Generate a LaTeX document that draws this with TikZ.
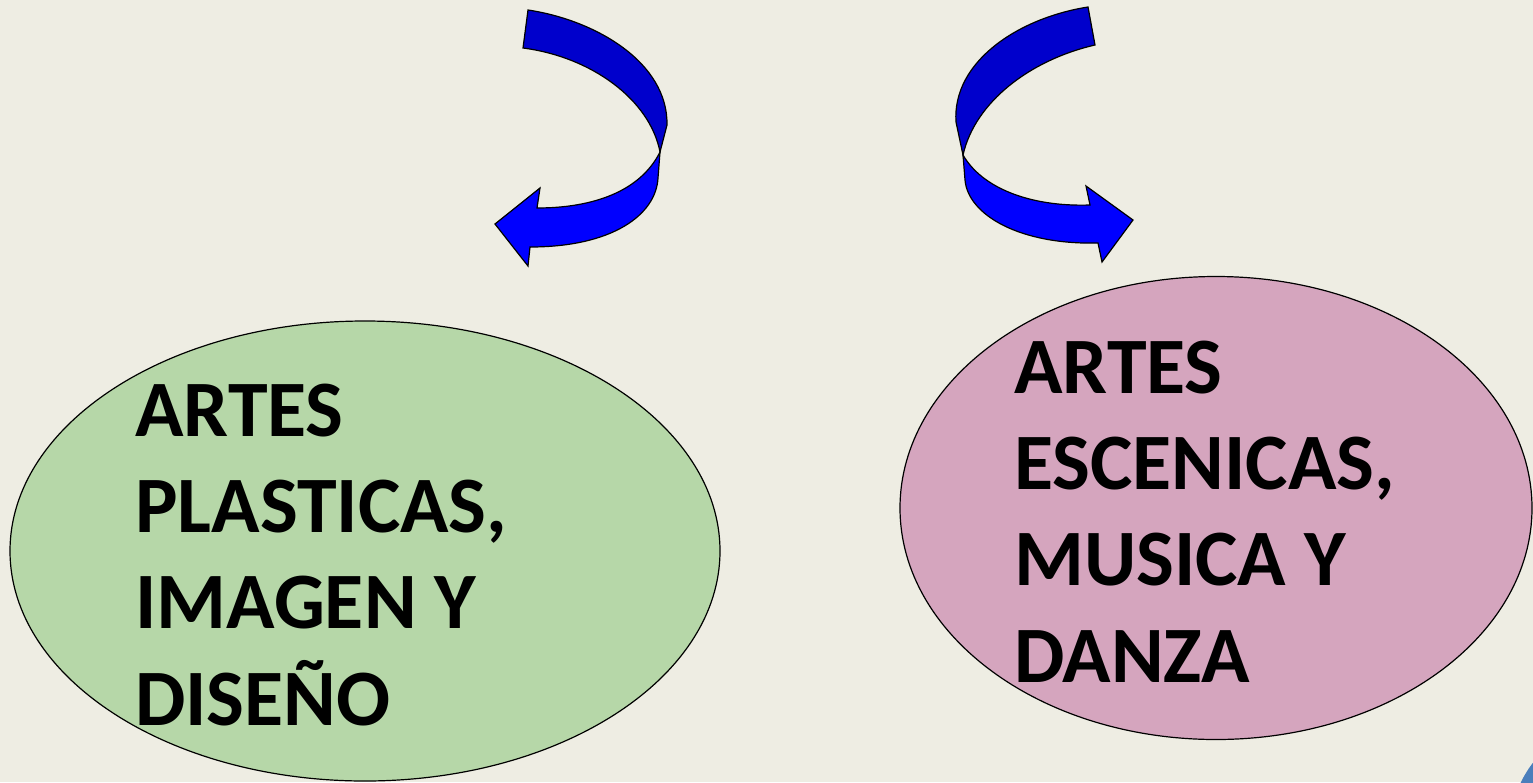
\documentclass[tikz,border=0pt]{standalone}
\usepackage{fontspec}
\setmainfont{Carlito}
\usetikzlibrary{shapes.geometric}
\definecolor{bg}{HTML}{EEEDE3}
\definecolor{greenfill}{HTML}{B6D7A8}
\definecolor{pinkfill}{HTML}{D5A5BE}
\definecolor{darkband}{RGB}{0,0,204}
\definecolor{lightband}{RGB}{0,0,255}
\definecolor{cornerblue}{HTML}{4A7EBB}
\tikzset{
  oval/.style={ellipse, draw=black, line width=1.2pt},
  band/.style={draw=black, line width=1.2pt, line join=miter},
  label/.style={anchor=base west, align=left, inner sep=0pt,
    font=\fontsize{80}{96.3}\selectfont\bfseries}
}
\begin{document}
\begin{tikzpicture}[x=1pt,y=-1pt]
\useasboundingbox (0,0) rectangle (1533,782);
\fill[bg] (0,0) rectangle (1533,782);
\begin{scope}
\clip (0,0) rectangle (1533,782);
\fill[cornerblue] (1620,830) circle (110);
% ellipses
\node[oval, fill=greenfill, minimum width=710pt, minimum height=460pt] (left) at (365,551) {};
\node[oval, fill=pinkfill, minimum width=632pt, minimum height=463pt] (right) at (1216,508) {};
\end{scope}
% texts (base anchor = baseline of last line)
\node[label] (ltext) at (135,725) {ARTES\\PLASTICAS,\\IMAGEN Y\\DISEÑO};
\node[label] (rtext) at (1014,682) {ARTES\\ESCENICAS,\\MUSICA Y\\DANZA};
% left curved arrow
\coordinate (lx) at (660,152);
\draw[band, fill=darkband] (528,10) .. controls (595,20) and (668,62) .. (667,125)
  -- (lx) .. controls (650,100) and (592,57) .. (523,48) -- cycle;
\draw[band, fill=lightband] (lx) .. controls (640,192) and (592,208) .. (537,208)
  -- (540,188) -- (495,224) -- (528,266) -- (530,247)
  .. controls (612,247) and (656,215) .. (658,178) -- cycle;
% right curved arrow
\coordinate (rx) at (963,155);
\draw[band, fill=darkband] (1088,7) .. controls (1018,18) and (952,62) .. (956,122)
  -- (rx) .. controls (975,102) and (1030,60) .. (1095,45) -- cycle;
\draw[band, fill=lightband] (rx) .. controls (982,188) and (1030,207) .. (1090,205)
  -- (1086,186) -- (1133,220) -- (1102,262) -- (1098,243)
  .. controls (1020,245) and (968,215) .. (965,180) -- cycle;
\end{tikzpicture}
\end{document}
